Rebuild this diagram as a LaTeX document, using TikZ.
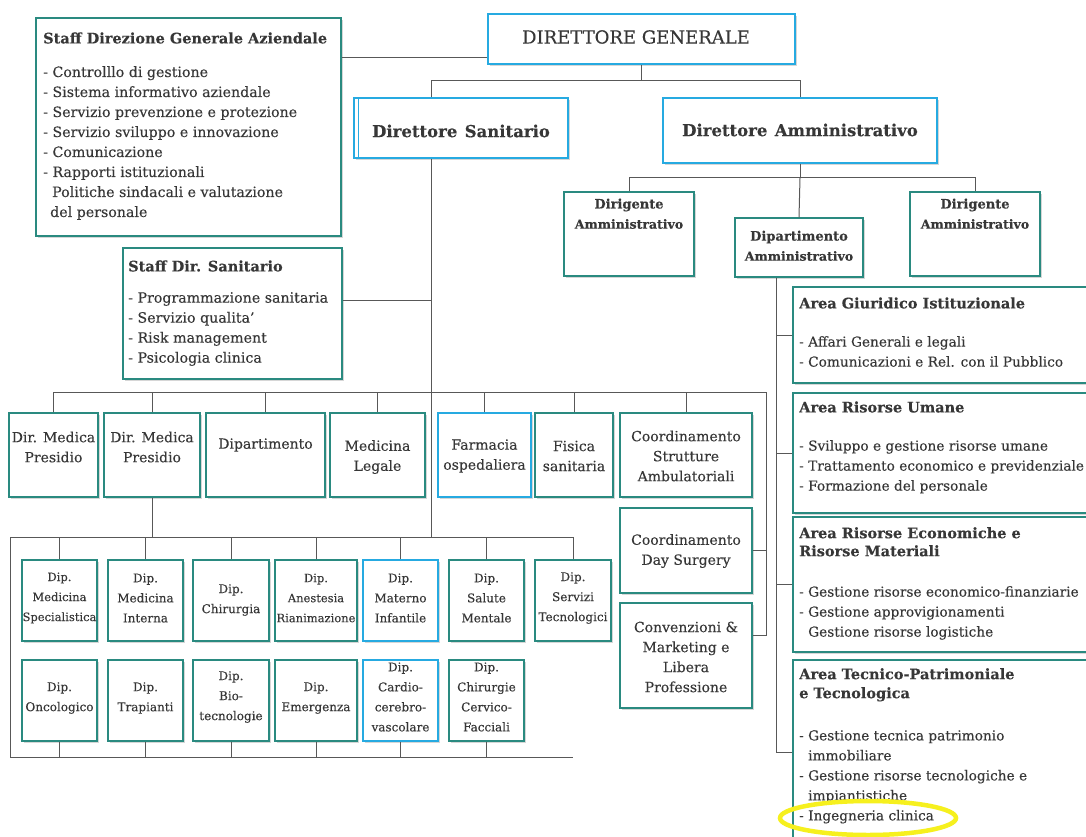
\documentclass[tikz,border=0pt]{standalone}
\usepackage{fontspec}
\setmainfont{DejaVu Serif}[FakeBold=0.2]
\usetikzlibrary{shadows,calc,shapes.geometric}

\definecolor{tealb}{RGB}{42,138,128}
\definecolor{blueb}{RGB}{38,170,225}
\definecolor{ink}{RGB}{55,55,55}
\definecolor{wirec}{RGB}{88,88,88}
\definecolor{hilite}{RGB}{246,240,30}

\newcommand\fz[2]{\fontsize{#1}{#2}\selectfont}
% box given by its corners: style, name, x1, y1, x2, y2 (pixel units, y downwards)
\newcommand\orgbox[6]{\node[#1, minimum width={(#5-#3)*1pt}, minimum height={(#6-#4)*1pt}] (#2) at ({(#3+#5)/2},{(#4+#6)/2}) {};}

\tikzset{
  tbox/.style={draw=tealb, line width=1.4pt, fill=white, inner sep=0pt,
    drop shadow={shadow xshift=1.5pt, shadow yshift=-2pt, opacity=0.16, fill=black}},
  bbox/.style={tbox, draw=blueb, line width=1.8pt},
  wire/.style={draw=wirec, line width=1pt},
  lbl/.style={text=ink, inner sep=0pt, align=center},
  lft/.style={text=ink, inner sep=0pt, align=left},
  rowtxt/.style={lbl, font=\fz{14}{20}},
  diptxt/.style={lbl, font=\fz{12}{20}},
  head/.style={lft, anchor=west, font=\fz{14.5}{18}\bfseries},
  items/.style={lft, anchor=north west, font=\fz{14.2}{20}},
  areaitems/.style={items, font=\fz{13.7}{20}},
}

\begin{document}
\begin{tikzpicture}[x=1pt, y=-1pt]
\useasboundingbox (0,0) rectangle (1086,837);
\fill[white] (0,0) rectangle (1086,837);
\clip (0,0) rectangle (1086,837);

% ---------- top management ----------
\orgbox{tbox}{sdg}{36}{18}{341}{236}
\node[head] (sdgT) at (43,38) {Staff Direzione Generale Aziendale};
\node[items] (sdgL) at (43,66) {- Controlllo di gestione\\- Sistema informativo aziendale\\- Servizio prevenzione e protezione\\- Servizio sviluppo e innovazione\\- Comunicazione\\- Rapporti istituzionali\\\hspace*{9pt}Politiche sindacali e valutazione\\\hspace*{7pt}del personale};

\orgbox{bbox}{dg}{488}{14}{795}{64}
\node[lbl, font=\fz{18}{22}] (dgT) at (636,37) {DIRETTORE GENERALE};

\orgbox{bbox}{ds}{354}{98}{568}{158}
\draw[blueb, line width=1.2pt] ($(ds.north west)+(5,0)$) -- ($(ds.south west)+(5,0)$);
\node[lbl, font=\fz{16.5}{20}\bfseries] (dsT) at (461,131) {Direttore\hspace{0.45em}Sanitario};

\orgbox{bbox}{da}{663}{98}{937}{163}
\node[lbl, font=\fz{16.5}{20}\bfseries] (daT) at (800,130) {Direttore\hspace{0.45em}Amministrativo};

% ---------- administrative branch ----------
\orgbox{tbox}{dirA1}{564}{192}{694}{276}
\node[lbl, font=\fz{13}{16}\bfseries] (dirA1a) at (629,205) {Dirigente};
\node[lbl, font=\fz{12.5}{14}\bfseries] (dirA1b) at (629,224) {Amministrativo};

\orgbox{tbox}{dipA}{735}{218}{863}{277}
\node[lbl, font=\fz{13}{16}\bfseries] (dipAa) at (799,237) {Dipartimento};
\node[lbl, font=\fz{12.5}{14}\bfseries] (dipAb) at (799,256) {Amministrativo};

\orgbox{tbox}{dirA2}{910}{192}{1040}{276}
\node[lbl, font=\fz{13}{16}\bfseries] (dirA2a) at (975,205) {Dirigente};
\node[lbl, font=\fz{12.5}{14}\bfseries] (dirA2b) at (975,224) {Amministrativo};

\orgbox{tbox}{a1}{793}{287}{1100}{383}
\node[head] (a1T) at (799,303) {Area Giuridico Istituzionale};
\node[areaitems] (a1L) at (799,336) {- Affari Generali e legali\\- Comunicazioni e Rel. con il Pubblico};

\orgbox{tbox}{a2}{793}{393}{1100}{513}
\node[head] (a2T) at (799,407) {Area Risorse Umane};
\node[areaitems] (a2L) at (799,440) {- Sviluppo e gestione risorse umane\\- Trattamento economico e previdenziale\\- Formazione del personale};

\orgbox{tbox}{a3}{793}{517}{1100}{652}
\node[head, anchor=north west] (a3T) at (799,527) {Area Risorse Economiche e\\Risorse Materiali};
\node[areaitems] (a3L) at (799,586) {- Gestione risorse economico-finanziarie\\- Gestione approvigionamenti\\\hspace*{9pt}Gestione risorse logistiche};

\orgbox{tbox}{a4}{793}{660}{1100}{845}
\node[head, anchor=north west, font=\fz{14.5}{19}\bfseries] (a4T) at (799,668) {Area Tecnico-Patrimoniale\\e Tecnologica};
\node[areaitems] (a4L) at (799,730) {- Gestione tecnica patrimonio\\\hspace*{9pt}immobiliare\\- Gestione risorse tecnologiche e\\\hspace*{9pt}impiantistiche\\- Ingegneria clinica};

% ---------- health branch ----------
\orgbox{tbox}{sds}{123}{248}{342}{379}
\node[head] (sdsT) at (128,266) {Staff Dir. Sanitario};
\node[items] (sdsL) at (128,292) {- Programmazione sanitaria\\- Servizio qualita'\\- Risk management\\- Psicologia clinica};

\orgbox{tbox}{r1}{9}{413}{98}{497}
\node[rowtxt] (r1t) at (53.5,447) {Dir. Medica\\Presidio};
\orgbox{tbox}{r2}{104}{413}{200}{497}
\node[rowtxt] (r2t) at (152,447) {Dir. Medica\\Presidio};
\orgbox{tbox}{r3}{206}{413}{325}{497}
\node[rowtxt] (r3t) at (265.5,445) {Dipartimento};
\orgbox{tbox}{r4}{330}{413}{425}{497}
\node[rowtxt] (r4t) at (377.5,457) {Medicina\\Legale};
\orgbox{bbox}{r5}{438}{413}{531}{497}
\node[rowtxt] (r5t) at (484.5,456) {Farmacia\\ospedaliera};
\orgbox{tbox}{r6}{535}{413}{613}{497}
\node[rowtxt] (r6t) at (574,456) {Fisica\\sanitaria};
\orgbox{tbox}{r7}{620}{413}{752}{497}
\node[rowtxt] (r7t) at (686,456) {Coordinamento\\Strutture\\Ambulatoriali};

\orgbox{tbox}{cds}{620}{508}{752}{593}
\node[rowtxt] (cdst) at (686,551) {Coordinamento\\Day Surgery};
\orgbox{tbox}{cmk}{620}{603}{752}{708}
\node[rowtxt] (cmkt) at (686,657) {Convenzioni \&\\Marketing e\\Libera\\Professione};

% departments, first row
\orgbox{tbox}{d1}{22}{560}{97}{641}
\node[diptxt, font=\fz{11.5}{20}] (d1t) at (59.5,598) {Dip.\\Medicina\\Specialistica};
\orgbox{tbox}{d2}{108}{560}{183}{641}
\node[diptxt] (d2t) at (145.5,598) {Dip.\\Medicina\\Interna};
\orgbox{tbox}{d3}{193}{560}{269}{641}
\node[diptxt] (d3t) at (231,600) {Dip.\\Chirurgia};
\orgbox{tbox}{d4}{275}{560}{357}{641}
\node[diptxt, font=\fz{11.5}{20}] (d4t) at (316,598) {Dip.\\Anestesia\\Rianimazione};
\orgbox{bbox}{d5}{363}{560}{438}{641}
\node[diptxt] (d5t) at (400.5,598) {Dip.\\Materno\\Infantile};
\orgbox{tbox}{d6}{449}{560}{524}{641}
\node[diptxt] (d6t) at (486.5,598) {Dip.\\Salute\\Mentale};
\orgbox{tbox}{d7}{535}{560}{611}{641}
\node[diptxt] (d7t) at (573,598) {Dip.\\Servizi\\Tecnologici};

% departments, second row
\orgbox{tbox}{e1}{22}{660}{97}{741}
\node[diptxt] (e1t) at (59.5,698) {Dip.\\Oncologico};
\orgbox{tbox}{e2}{108}{660}{183}{741}
\node[diptxt] (e2t) at (145.5,698) {Dip.\\Trapianti};
\orgbox{tbox}{e3}{193}{660}{269}{741}
\node[diptxt] (e3t) at (231,697) {Dip.\\Bio-\\tecnologie};
\orgbox{tbox}{e4}{275}{660}{357}{741}
\node[diptxt] (e4t) at (316,698) {Dip.\\Emergenza};
\orgbox{bbox}{e5}{363}{660}{438}{741}
\node[diptxt] (e5t) at (400.5,697) {Dip.\\Cardio-\\cerebro-\\vascolare};
\orgbox{tbox}{e6}{449}{660}{524}{741}
\node[diptxt] (e6t) at (486.5,697) {Dip.\\Chirurgie\\Cervico-\\Facciali};

% ---------- connectors ----------
\coordinate (spine) at (431,0);
\coordinate (cv) at (766,0);
\coordinate (av) at (776,0);
\coordinate (lv) at (10,0);
\coordinate (busA) at (0,392);
\coordinate (busB) at (0,537);
\coordinate (busC) at (0,757);

\draw[wire] (dg.south west) ++(0,-7) coordinate (dgL) -- (dgL -| sdg.east);
\draw[wire] (dg.south) -- ++(0,16) coordinate (dgJ);
\draw[wire] (spine |- ds.north) |- (dgJ) -| (da.north);

\draw[wire] (da.south) -- ++(0,14) coordinate (daJ);
\draw[wire] (dirA1.north) |- (daJ) -| (dirA2.north);
\draw[wire] (daJ) -- (dipA.north);

\draw[wire] (av |- dipA.south) -- (av |- a4.west);
\foreach \a in {a1,a2,a3,a4} \draw[wire] (\a.west) -- (\a.west -| av);

\draw[wire] (spine |- ds.south) -- (spine |- busB);
\draw[wire] (sds.east) ++(0,-13) coordinate (sdsJ) -- (sdsJ -| spine);

\path (cmk.east) ++(0,-20) coordinate (cmkJ);
\draw[wire] (r1.north) -- (r1.north |- busA) -- (cv |- busA) -- (cv |- cmkJ) -- (cmkJ);
\foreach \r in {r2,r3,r4,r5,r6,r7} \draw[wire] (\r.north) -- (\r.north |- busA);
\draw[wire] (cds.east) -- (cds.east -| cv);

\draw[wire] (r2.south) -- (r2.south |- busB);
\draw[wire] (d7.north |- busB) -- (lv |- busB) -- (lv |- busC) -- (d7.south |- busC);
\foreach \d in {d1,d2,d3,d4,d5,d6,d7} \draw[wire] (\d.north) -- (\d.north |- busB);
\foreach \e in {e1,e2,e3,e4,e5,e6} \draw[wire] (\e.south) -- (\e.south |- busC);

% highlight around the last item
\node[draw=hilite, ellipse, line width=4.5pt, minimum width=176pt, minimum height=34pt, inner sep=0pt] (hl) at (868,818) {};
\end{tikzpicture}
\end{document}
